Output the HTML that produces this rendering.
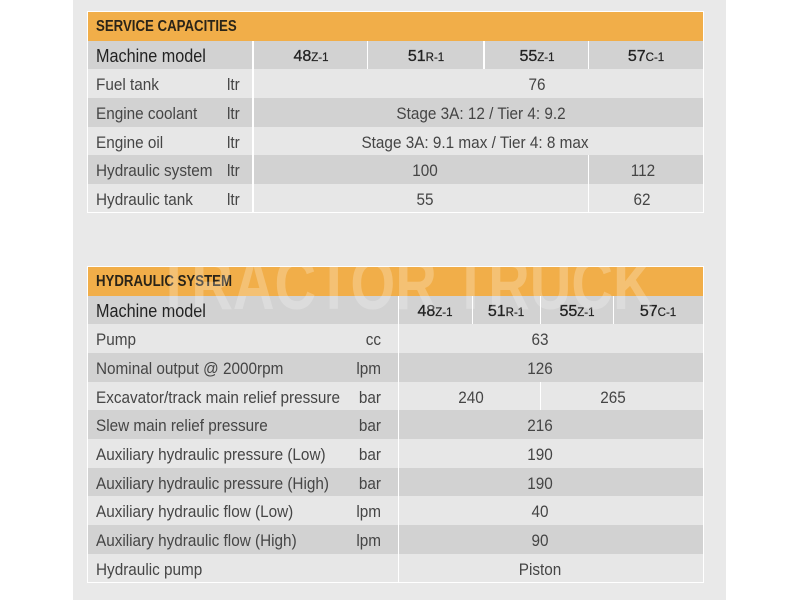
<!DOCTYPE html>
<html>
<head>
<meta charset="utf-8">
<style>
html,body{margin:0;padding:0;}
body{width:800px;height:600px;background:#ffffff;position:relative;overflow:hidden;font-family:"Liberation Sans",sans-serif;}
.panel{position:absolute;left:73px;top:0;width:653px;height:600px;background:#e9e9e9;}
.box{position:absolute;background:#ffffff;}
.r{position:absolute;left:88px;width:615px;}
.or{background:#f1ae49;}
.dk{background:#d2d2d2;}
.lt{background:#e7e7e7;}
.v{position:absolute;width:1.5px;background:#ffffff;}
.t{position:absolute;white-space:nowrap;font-size:17px;color:#454545;height:28px;line-height:28px;padding-top:1.5px;transform:scaleX(0.9);transform-origin:left center;}
.c{transform:translateX(-50%) scaleX(0.9);transform-origin:center center;}
.u{text-align:right;transform-origin:right center;}
.h{position:absolute;white-space:nowrap;font-weight:bold;font-size:15.3px;color:#2a2418;line-height:29px;height:29px;transform:scaleX(0.865);transform-origin:left center;}
.m{position:absolute;white-space:nowrap;color:#222;height:28px;line-height:28px;}
.mm{font-size:18px;transform:scaleX(0.9);transform-origin:left center;padding-top:0.5px;}
.mc{transform:translateX(-50%);padding-top:2px;}
.big{font-size:16px;-webkit-text-stroke:0.3px #222;}
.sm{font-size:11.5px;-webkit-text-stroke:0.2px #222;}
.clip{position:absolute;left:88px;top:267px;width:615px;height:315px;overflow:hidden;}
.wm{position:absolute;left:68px;top:-19px;font-size:73px;font-weight:bold;color:rgba(255,255,255,0.24);white-space:nowrap;transform:scaleX(0.79);transform-origin:left top;line-height:73px;}
</style>
</head>
<body>
<div class="panel"></div>

<!-- TABLE 1 -->
<div class="box" style="left:87px;top:11px;width:617px;height:202px;"></div>
<div class="r or" style="top:12px;height:29px;"></div>
<div class="r dk" style="top:41px;height:28px;"></div>
<div class="r lt" style="top:69px;height:29px;"></div>
<div class="r dk" style="top:98px;height:29px;"></div>
<div class="r lt" style="top:127px;height:28px;"></div>
<div class="r dk" style="top:155px;height:29px;"></div>
<div class="r lt" style="top:184px;height:28px;"></div>

<div class="v" style="left:252px;top:41px;height:171px;"></div>
<div class="v" style="left:366.5px;top:41px;height:28px;"></div>
<div class="v" style="left:483px;top:41px;height:28px;"></div>
<div class="v" style="left:587.5px;top:41px;height:28px;"></div>
<div class="v" style="left:587.5px;top:155px;height:57px;"></div>

<div class="h" style="left:96px;top:12px;">SERVICE CAPACITIES</div>

<div class="m mm" style="left:96px;top:41px;">Machine model</div>
<div class="m mc" style="left:311px;top:41px;"><span class="big">48</span><span class="sm">Z-1</span></div>
<div class="m mc" style="left:426px;top:41px;"><span class="big">51</span><span class="sm">R-1</span></div>
<div class="m mc" style="left:537px;top:41px;"><span class="big">55</span><span class="sm">Z-1</span></div>
<div class="m mc" style="left:646px;top:41px;"><span class="big">57</span><span class="sm">C-1</span></div>

<div class="t" style="left:96px;top:69.5px;">Fuel tank</div>
<div class="t" style="left:227px;top:69.5px;">ltr</div>
<div class="t c" style="left:537px;top:69.5px;">76</div>

<div class="t" style="left:96px;top:98px;">Engine coolant</div>
<div class="t" style="left:227px;top:98px;">ltr</div>
<div class="t c" style="left:481px;top:98px;">Stage 3A: 12 / Tier 4: 9.2</div>

<div class="t" style="left:96px;top:127px;">Engine oil</div>
<div class="t" style="left:227px;top:127px;">ltr</div>
<div class="t c" style="left:475px;top:127px;">Stage 3A: 9.1 max / Tier 4: 8 max</div>

<div class="t" style="left:96px;top:155.5px;">Hydraulic system</div>
<div class="t" style="left:227px;top:155.5px;">ltr</div>
<div class="t c" style="left:425px;top:155.5px;">100</div>
<div class="t c" style="left:643px;top:155.5px;">112</div>

<div class="t" style="left:96px;top:184px;">Hydraulic tank</div>
<div class="t" style="left:227px;top:184px;">ltr</div>
<div class="t c" style="left:425px;top:184px;">55</div>
<div class="t c" style="left:642px;top:184px;">62</div>

<!-- TABLE 2 -->
<div class="box" style="left:87px;top:266px;width:617px;height:317px;"></div>
<div class="r or" style="top:267px;height:29px;"></div>
<div class="r dk" style="top:296px;height:28px;"></div>
<div class="r lt" style="top:324px;height:29px;"></div>
<div class="r dk" style="top:353px;height:29px;"></div>
<div class="r lt" style="top:382px;height:28px;"></div>
<div class="r dk" style="top:410px;height:29px;"></div>
<div class="r lt" style="top:439px;height:29px;"></div>
<div class="r dk" style="top:468px;height:28px;"></div>
<div class="r lt" style="top:496px;height:29px;"></div>
<div class="r dk" style="top:525px;height:29px;"></div>
<div class="r lt" style="top:554px;height:28px;"></div>

<div class="v" style="left:397.5px;top:296px;height:286px;"></div>
<div class="v" style="left:471.5px;top:296px;height:28px;"></div>
<div class="v" style="left:539.5px;top:296px;height:28px;"></div>
<div class="v" style="left:612.5px;top:296px;height:28px;"></div>
<div class="v" style="left:539.5px;top:382px;height:28px;"></div>

<div class="h" style="left:96px;top:267px;">HYDRAULIC SYSTEM</div>

<div class="m mm" style="left:96px;top:296px;">Machine model</div>
<div class="m mc" style="left:435px;top:296px;"><span class="big">48</span><span class="sm">Z-1</span></div>
<div class="m mc" style="left:506px;top:296px;"><span class="big">51</span><span class="sm">R-1</span></div>
<div class="m mc" style="left:577px;top:296px;"><span class="big">55</span><span class="sm">Z-1</span></div>
<div class="m mc" style="left:658px;top:296px;"><span class="big">57</span><span class="sm">C-1</span></div>

<div class="t" style="left:96px;top:324.5px;">Pump</div>
<div class="t u" style="left:300px;width:81px;top:324.5px;">cc</div>
<div class="t c" style="left:540px;top:324.5px;">63</div>

<div class="t" style="left:96px;top:353px;">Nominal output @ 2000rpm</div>
<div class="t u" style="left:300px;width:81px;top:353px;">lpm</div>
<div class="t c" style="left:540px;top:353px;">126</div>

<div class="t" style="left:96px;top:382px;">Excavator/track main relief pressure</div>
<div class="t u" style="left:300px;width:81px;top:382px;">bar</div>
<div class="t c" style="left:471px;top:382px;">240</div>
<div class="t c" style="left:613px;top:382px;">265</div>

<div class="t" style="left:96px;top:410.5px;">Slew main relief pressure</div>
<div class="t u" style="left:300px;width:81px;top:410.5px;">bar</div>
<div class="t c" style="left:540px;top:410.5px;">216</div>

<div class="t" style="left:96px;top:439px;">Auxiliary hydraulic pressure (Low)</div>
<div class="t u" style="left:300px;width:81px;top:439px;">bar</div>
<div class="t c" style="left:540px;top:439px;">190</div>

<div class="t" style="left:96px;top:468px;">Auxiliary hydraulic pressure (High)</div>
<div class="t u" style="left:300px;width:81px;top:468px;">bar</div>
<div class="t c" style="left:540px;top:468px;">190</div>

<div class="t" style="left:96px;top:496.5px;">Auxiliary hydraulic flow (Low)</div>
<div class="t u" style="left:300px;width:81px;top:496.5px;">lpm</div>
<div class="t c" style="left:540px;top:496.5px;">40</div>

<div class="t" style="left:96px;top:525px;">Auxiliary hydraulic flow (High)</div>
<div class="t u" style="left:300px;width:81px;top:525px;">lpm</div>
<div class="t c" style="left:540px;top:525px;">90</div>

<div class="t" style="left:96px;top:554px;">Hydraulic pump</div>
<div class="t c" style="left:540px;top:554px;">Piston</div>

<div class="clip"><div class="wm">TRACTOR TRUCK</div></div>
</body>
</html>
